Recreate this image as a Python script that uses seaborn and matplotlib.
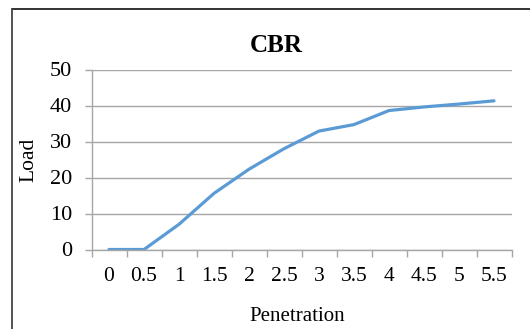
import matplotlib
matplotlib.use("Agg")
import matplotlib.pyplot as plt
from matplotlib.lines import Line2D
import seaborn as sns
import pandas as pd
import numpy as np

penetration = ["0", "0.5", "1", "1.5", "2", "2.5", "3", "3.5", "4", "4.5", "5", "5.5"]
load = [0, 0, 7.0, 15.6, 22.3, 28.0, 32.9, 34.7, 38.6, 39.6, 40.4, 41.3]
y_ticks = [0, 10, 20, 30, 40, 50]

sns.set_theme(style="white")
plt.rcParams["font.family"] = ["Liberation Serif", "DejaVu Serif"]

df = pd.DataFrame({"Penetration": penetration, "Load": load})

fig = plt.figure(figsize=(5.30, 3.29), dpi=100)
W, H = 530, 329
x0, x1, ytop, ybot = 91.5, 511.5, 69.5, 249.5
ax = fig.add_axes([x0 / W, 1 - ybot / H, (x1 - x0) / W, (ybot - ytop) / H])

sns.lineplot(data=df, x="Penetration", y="Load", ax=ax, color="#5b9bd5",
             linewidth=2.3, sort=False)

n = len(penetration)
ax.set_xlim(-0.5, n - 0.5)
ax.set_ylim(0, 50)
ax.set_yticks(y_ticks)
ax.set_xticks(range(n))
ax.set_xticklabels(penetration)
ax.set_xticks(np.arange(-0.5, n, 1.0), minor=True)

grid_c = "#a6a6a6"
ax.yaxis.grid(True, color=grid_c, linewidth=1.0)
ax.xaxis.grid(False)
ax.set_axisbelow(True)
for s in ["top", "right"]:
    ax.spines[s].set_visible(False)
for s in ["left", "bottom"]:
    ax.spines[s].set_color(grid_c)
    ax.spines[s].set_linewidth(1.0)

ax.tick_params(axis="x", which="major", length=0, pad=12.5, labelsize=15.5, colors="black")
ax.tick_params(axis="x", which="minor", length=5, width=1.0, color=grid_c, direction="out", bottom=True)
ax.tick_params(axis="y", which="major", length=5, width=1.0, color=grid_c, direction="out",
               pad=9, labelsize=16, left=True, labelcolor="black")

ax.set_xlabel("Penetration", fontsize=15, color="black")
ax.set_ylabel("Load", fontsize=15.5, color="black")
ax.xaxis.set_label_coords(0.49, -0.317)
ax.yaxis.set_label_coords((38 - x0) / (x1 - x0), 0.5)

fig.text(276 / W, 1 - 45 / H, "CBR", ha="center", va="center", fontsize=18,
         fontweight="bold", color="black")

# outer chart frame (top and left edges visible)
fig.add_artist(Line2D([11.5 / W, 1.0], [1 - 8.5 / H, 1 - 8.5 / H], color="#222222",
                      linewidth=1.3, transform=fig.transFigure))
fig.add_artist(Line2D([11.5 / W, 11.5 / W], [1 - 8.5 / H, 0.0], color="#444444",
                      linewidth=1.3, transform=fig.transFigure))

fig.savefig("out.png", dpi=100)
